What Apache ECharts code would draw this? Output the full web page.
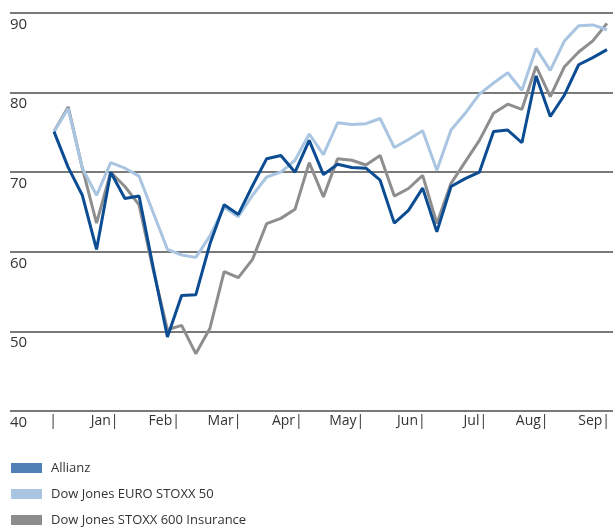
<!DOCTYPE html>
<html>
<head>
<meta charset="utf-8">
<script src="https://cdn.jsdelivr.net/npm/echarts@6/dist/echarts.min.js"></script>
<style>
  html, body { margin: 0; padding: 0; background: #fff; }
  #chart { width: 613px; height: 528px; }
</style>
</head>
<body>
<div id="chart"></div>
<script>
// weekly index values, end of Dec = start
const weeks = [];
for (let i = 0; i < 40; i++) weeks.push(i);

const months = ['', 'Jan', 'Feb', 'Mar', 'Apr', 'May', 'Jun', 'Jul', 'Aug', 'Sep'];

const allianz = [75.1, 70.6, 67.1, 60.3, 70.0, 66.7, 67.0, 58.0, 49.3, 54.5,
                 54.6, 61.0, 65.9, 64.7, 68.3, 71.7, 72.1, 70.0, 74.0, 69.7,
                 71.0, 70.6, 70.5, 69.0, 63.6, 65.2, 68.0, 62.5, 68.2, 69.2,
                 70.0, 75.1, 75.3, 73.7, 82.1, 77.0, 79.7, 83.5, 84.4, 85.4];

const euroStoxx = [75.1, 78.0, 70.5, 67.1, 71.2, 70.5, 69.5, 64.9, 60.3, 59.6,
                   59.3, 62.0, 65.6, 64.4, 67.1, 69.4, 70.0, 71.5, 74.8, 72.2,
                   76.2, 76.0, 76.1, 76.75, 73.1, 74.1, 75.2, 70.25, 75.3, 77.4,
                   79.8, 81.2, 82.5, 80.3, 85.55, 82.8, 86.5, 88.4, 88.5, 87.9];

const insurance = [75.1, 78.2, 70.5, 63.6, 70.0, 68.2, 65.9, 57.7, 50.2, 50.75,
                   47.2, 50.4, 57.5, 56.75, 59.05, 63.55, 64.2, 65.35, 71.2, 66.9,
                   71.7, 71.5, 70.9, 72.1, 67.0, 67.95, 69.6, 63.55, 68.6, 71.3,
                   74.0, 77.4, 78.55, 77.9, 83.3, 79.5, 83.25, 85.1, 86.5, 88.7];

const font = '"Open Sans", sans-serif';

let myChart = echarts.init(document.getElementById('chart'));

myChart.setOption({
    animation: false,
    textStyle: { fontFamily: font },
    grid: [
        // full width grid: only for the horizontal lines and y labels
        { left: 10, right: 0, top: 13, bottom: 117 },
        // data grid
        { left: 54, right: 6, top: 13, bottom: 117 }
    ],
    xAxis: [
        { gridIndex: 0, type: 'value', min: 0, max: 1, show: false },
        { gridIndex: 1, type: 'category', data: weeks, boundaryGap: false, show: false },
        {
            gridIndex: 1, type: 'value', min: 0, max: 9, interval: 1,
            position: 'bottom',
            axisLine: { show: false },
            axisTick: { show: false },
            splitLine: { show: false },
            axisLabel: {
                margin: 3,
                align: 'right',
                padding: [0, -3, 0, 0],
                color: '#333',
                fontSize: 14,
                fontFamily: font,
                formatter: v => months[v] + '|'
            }
        }
    ],
    yAxis: [
        {
            gridIndex: 0, type: 'value', min: 40, max: 90, interval: 10,
            axisLine: { show: false },
            axisTick: { show: false },
            splitLine: { lineStyle: { color: '#4d4d4d', width: 1.5 } },
            axisLabel: {
                inside: true,
                margin: 0,
                verticalAlign: 'top',
                padding: [4, 0, 0, 0],
                color: '#333',
                fontSize: 15,
                fontFamily: font
            }
        },
        {
            gridIndex: 1, type: 'value', min: 40, max: 90, show: false
        }
    ],
    legend: {
        orient: 'vertical',
        left: 11,
        top: 461,
        padding: 0,
        icon: 'rect',
        itemWidth: 31,
        itemHeight: 10,
        itemGap: 12,
        textStyle: { fontSize: 13, color: '#333', lineHeight: 14, padding: [0, 0, 0, 4], fontFamily: font },
        data: [
            { name: 'Allianz', itemStyle: { color: '#4f80b6' } },
            { name: 'Dow Jones EURO STOXX 50', itemStyle: { color: '#a9c5e1' } },
            { name: 'Dow Jones STOXX 600 Insurance', itemStyle: { color: '#8c8c8c' } }
        ]
    },
    series: [
        {
            name: 'Dow Jones STOXX 600 Insurance',
            type: 'line', xAxisIndex: 1, yAxisIndex: 1,
            data: insurance, symbol: 'none',
            lineStyle: { color: '#8e8e8e', width: 3 },
            itemStyle: { color: '#8c8c8c' }
        },
        {
            name: 'Dow Jones EURO STOXX 50',
            type: 'line', xAxisIndex: 1, yAxisIndex: 1,
            data: euroStoxx, symbol: 'none',
            lineStyle: { color: '#a9c5e1', width: 3 },
            itemStyle: { color: '#a9c5e1' }
        },
        {
            name: 'Allianz',
            type: 'line', xAxisIndex: 1, yAxisIndex: 1,
            data: allianz, symbol: 'none',
            lineStyle: { color: '#0b4c92', width: 3 },
            itemStyle: { color: '#4f80b6' }
        }
    ]
});
</script>
</body>
</html>
